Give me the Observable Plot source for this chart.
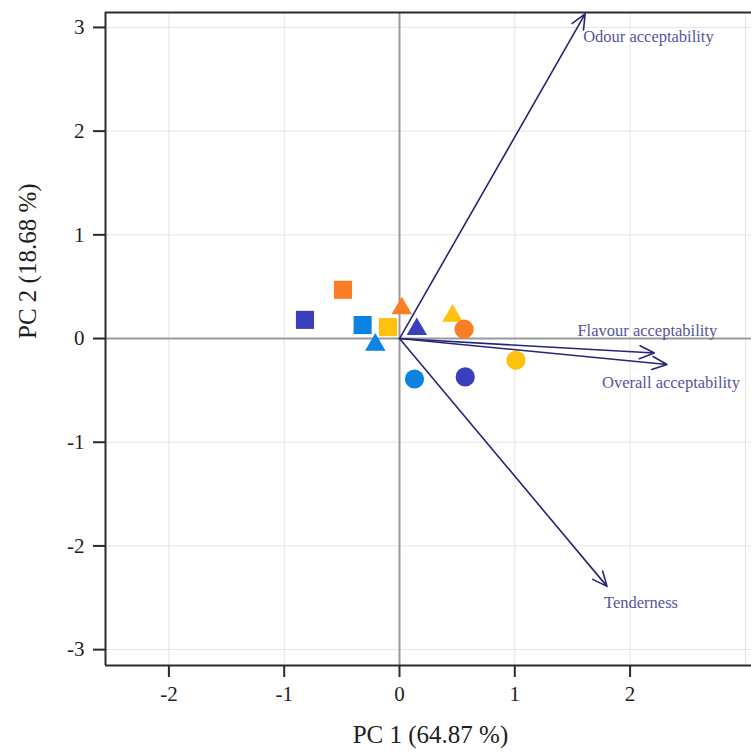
<!DOCTYPE html>
<html>
<head>
<meta charset="utf-8">
<script src="https://cdn.jsdelivr.net/npm/d3@7"></script>
<script src="https://cdn.jsdelivr.net/npm/@observablehq/plot@0.6"></script>
<style>
  html, body { margin: 0; padding: 0; background: #fff; }
  svg { display: block; }
</style>
</head>
<body>
<div id="chart"></div>
<script>
// Scores (samples)
const sampleShape = ["square","square","square","square","triangle","triangle","triangle","triangle","circle","circle","circle","circle"];
const sampleGroup = ["navy","orange","blue","yellow","orange","blue","navy","yellow","orange","yellow","blue","navy"];
const samplePC1 = [-0.82, -0.49, -0.32, -0.10, 0.02, -0.21, 0.15, 0.46, 0.56, 1.01, 0.13, 0.57];
const samplePC2 = [0.18, 0.47, 0.13, 0.11, 0.29, -0.06, 0.09, 0.22, 0.09, -0.21, -0.39, -0.37];

const groupNames = ["navy", "orange", "blue", "yellow"];
const groupColors = ["#3a3fbd", "#fb7d25", "#0b83e2", "#ffc10e"];

// Loadings (variables)
const varNames = ["Odour acceptability", "Flavour acceptability", "Overall acceptability", "Tenderness"];
const varPC1 = [1.61, 2.21, 2.32, 1.80];
const varPC2 = [3.13, -0.14, -0.25, -2.39];

const xTicks = [-2, -1, 0, 1, 2];
const yTicks = [-3, -2, -1, 0, 1, 2, 3];
const xTitle = "PC 1 (64.87 %)";
const yTitle = "PC 2 (18.68 %)";

const samples = samplePC1.map((x, i) => ({
  x, y: samplePC2[i], shape: sampleShape[i],
  color: groupColors[groupNames.indexOf(sampleGroup[i])]
}));
const vars = varNames.map((name, i) => ({ name, x: varPC1[i], y: varPC2[i] }));

const labelOffsets = {
  "Odour acceptability":   { dx: -2, dy: 23, anchor: "start" },
  "Flavour acceptability": { dx: -7, dy: -22, anchor: "middle" },
  "Overall acceptability": { dx: 4, dy: 18, anchor: "middle" },
  "Tenderness":            { dx: -3, dy: 16, anchor: "start" }
};

const font = "'Liberation Serif', 'Times New Roman', serif";
const arrowColor = "#25257a";
const labelColor = "#55559e";
const fmt = d => String(d).replace("\u2212", "-");

const marks = [
  Plot.gridX(xTicks.concat([3]), { stroke: "#e4e4e4", strokeOpacity: 1, strokeWidth: 1 }),
  Plot.gridY(yTicks, { stroke: "#e4e4e4", strokeOpacity: 1, strokeWidth: 1 }),
  Plot.ruleX([0], { stroke: "#9a9a9a", strokeWidth: 2 }),
  Plot.ruleY([0], { stroke: "#9a9a9a", strokeWidth: 2 }),
  Plot.ruleX([-2.55], { stroke: "#2b2b2b", strokeWidth: 2 }),
  Plot.ruleY([-3.153, 3.144], { stroke: "#2b2b2b", strokeWidth: 2 }),
  Plot.axisX({ ticks: xTicks, tickFormat: () => "", tickSize: 12, label: null, stroke: "#2b2b2b", strokeWidth: 2 }),
  Plot.axisY({ ticks: yTicks, tickFormat: () => "", tickSize: 12, label: null, stroke: "#2b2b2b", strokeWidth: 2 }),
  Plot.text(xTicks, { x: d => d, text: fmt, frameAnchor: "bottom", dy: 35, fontSize: 21, fill: "#1e1e1e", fontFamily: font }),
  Plot.text(yTicks, { y: d => d, text: fmt, frameAnchor: "left", dx: -21, textAnchor: "end", fontSize: 21, fill: "#1e1e1e", fontFamily: font }),
  ...["square", "triangle", "circle"].map(shape =>
    Plot.dot(samples.filter(d => d.shape === shape), {
      x: "x", y: "y", fill: "color", stroke: "none", symbol: shape,
      r: shape === "square" ? 10.2 : shape === "triangle" ? 7.6 : 9.6
    })
  ),
  Plot.arrow(vars, {
    x1: () => 0, y1: () => 0, x2: "x", y2: "y",
    stroke: arrowColor, strokeWidth: 1.6, headLength: 15, headAngle: 48
  }),
  ...vars.map(v => Plot.text([v], {
    x: "x", y: "y", text: "name",
    dx: labelOffsets[v.name].dx, dy: labelOffsets[v.name].dy,
    textAnchor: labelOffsets[v.name].anchor,
    fill: labelColor, fontSize: 16.5, fontFamily: font
  })),
  Plot.text([xTitle], { text: d => d, frameAnchor: "bottom", dy: 77, dx: 2, fontSize: 25, fill: "#1e1e1e", fontFamily: font }),
  Plot.text([yTitle], { text: d => d, frameAnchor: "left", dx: -78, dy: 0, rotate: -90, fontSize: 25, fill: "#1e1e1e", fontFamily: font })
];

const chart = Plot.plot({
  width: 751,
  height: 756,
  marginLeft: 105,
  marginRight: 0,
  marginTop: 12,
  marginBottom: 91,
  style: { fontFamily: font, background: "#fff", color: "#1e1e1e", overflow: "visible" },
  x: { domain: [-2.55, 3.053] },
  y: { domain: [-3.153, 3.144] },
  color: { type: "identity" },
  marks
});
document.getElementById("chart").appendChild(chart);
</script>
</body>
</html>
